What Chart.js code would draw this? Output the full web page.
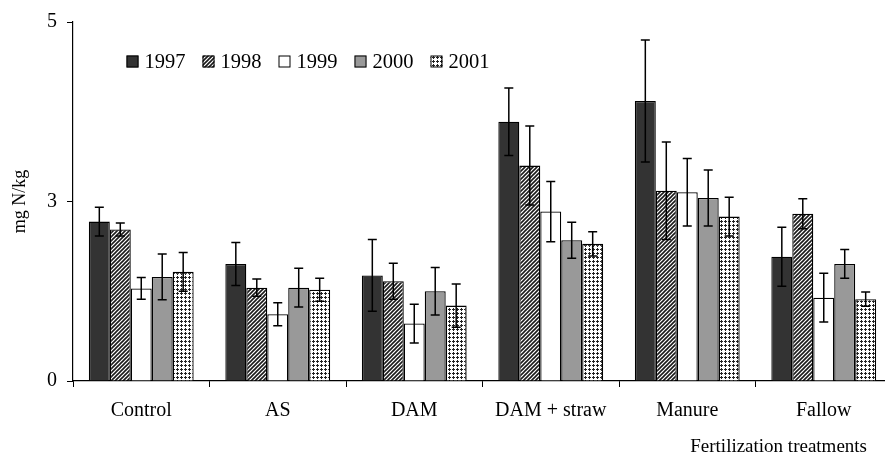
<!DOCTYPE html>
<html>
<head>
<meta charset="utf-8">
<script src="https://cdn.jsdelivr.net/npm/chart.js@4.4.1/dist/chart.umd.min.js"></script>
<style>
  html, body { margin: 0; padding: 0; background: #fff; overflow: hidden; }
  #wrap { width: 892px; height: 459px; }
</style>
</head>
<body>
<div id="wrap"><canvas id="c" width="892" height="459"></canvas></div>
<script>
// ---- Data ----
const categories = ['Control', 'AS', 'DAM', 'DAM + straw', 'Manure', 'Fallow'];
const seriesNames = ['1997', '1998', '1999', '2000', '2001'];
const v1997 = [2.22, 1.63, 1.47, 3.61, 3.90, 1.73];
const v1998 = [2.11, 1.30, 1.39, 3.00, 2.65, 2.33];
const v1999 = [1.29, 0.93, 0.80, 2.36, 2.63, 1.16];
const v2000 = [1.45, 1.30, 1.25, 1.96, 2.55, 1.63];
const v2001 = [1.52, 1.27, 1.05, 1.91, 2.29, 1.14];
const e1997 = [0.20, 0.30, 0.50, 0.47, 0.85, 0.41];
const e1998 = [0.09, 0.12, 0.25, 0.55, 0.68, 0.21];
const e1999 = [0.15, 0.16, 0.27, 0.42, 0.47, 0.34];
const e2000 = [0.32, 0.27, 0.33, 0.25, 0.39, 0.20];
const e2001 = [0.27, 0.16, 0.30, 0.17, 0.27, 0.10];
const yTickLabels = ['0', '3', '5'];
const yTitle = 'mg N/kg';
const xTitle = 'Fertilization treatments';

// ---- Patterns ----
function hatchPattern() {
  const s = 4, c = document.createElement('canvas');
  c.width = s; c.height = s;
  const g = c.getContext('2d');
  g.fillStyle = '#fff'; g.fillRect(0, 0, s, s);
  g.strokeStyle = '#1a1a1a'; g.lineWidth = 1.6;
  g.beginPath();
  g.moveTo(0, s); g.lineTo(s, 0);
  g.moveTo(-1, 1); g.lineTo(1, -1);
  g.moveTo(s - 1, s + 1); g.lineTo(s + 1, s - 1);
  g.stroke();
  return g.createPattern(c, 'repeat');
}
function dotPattern() {
  const s = 4, c = document.createElement('canvas');
  c.width = s; c.height = s;
  const g = c.getContext('2d');
  g.fillStyle = '#fff'; g.fillRect(0, 0, s, s);
  g.fillStyle = '#222';
  g.fillRect(1, 0, 1, 3);
  g.fillRect(0, 1, 3, 1);
  return g.createPattern(c, 'repeat');
}

const ctx = document.getElementById('c').getContext('2d');
const fills = ['#333333', hatchPattern(), '#ffffff', '#999999', dotPattern()];
const values = [v1997, v1998, v1999, v2000, v2001];
const errors = [e1997, e1998, e1999, e2000, e2001];

const FONT = 'Liberation Serif, Times New Roman, serif';

const errorBarPlugin = {
  id: 'errorBars',
  afterDatasetsDraw(chart) {
    const g = chart.ctx, ys = chart.scales.y;
    g.save();
    g.strokeStyle = '#000';
    g.lineWidth = 1.5;
    chart.data.datasets.forEach((ds, di) => {
      const meta = chart.getDatasetMeta(di);
      meta.data.forEach((bar, i) => {
        const v = ds.data[i], e = ds.errors[i];
        const yt = ys.getPixelForValue(v + e), yb = ys.getPixelForValue(v - e);
        const x = bar.x, cw = 4.5;
        g.beginPath();
        g.moveTo(x, yt); g.lineTo(x, yb);
        g.moveTo(x - cw, yt); g.lineTo(x + cw, yt);
        g.moveTo(x - cw, yb); g.lineTo(x + cw, yb);
        g.stroke();
      });
    });
    g.restore();
  }
};

const legendPlugin = {
  id: 'customLegend',
  afterDraw(chart) {
    const g = chart.ctx, ca = chart.chartArea;
    g.save();
    g.font = '20.5px ' + FONT;
    g.textBaseline = 'middle';
    g.textAlign = 'left';
    let x = ca.left + 53.5;
    const yc = ca.top + 39.5, bs = 12;
    chart.data.datasets.forEach((ds) => {
      g.fillStyle = ds.backgroundColor;
      g.fillRect(x, yc - bs / 2, bs, bs);
      g.strokeStyle = '#000'; g.lineWidth = 1;
      g.strokeRect(x + 0.5, yc - bs / 2 + 0.5, bs - 1, bs - 1);
      g.fillStyle = '#000';
      g.fillText(ds.label, x + bs + 6, yc + 1);
      x += bs + 6 + g.measureText(ds.label).width + 17;
    });
    g.restore();
  }
};

const xTitlePlugin = {
  id: 'xTitle',
  afterDraw(chart) {
    const g = chart.ctx, ca = chart.chartArea;
    g.save();
    g.font = '19px ' + FONT;
    g.fillStyle = '#000';
    g.textAlign = 'right';
    g.textBaseline = 'alphabetic';
    g.fillText(xTitle, ca.right - 25, ca.bottom + 71);
    g.restore();
  }
};

new Chart(ctx, {
  type: 'bar',
  data: {
    labels: categories,
    datasets: seriesNames.map((name, k) => ({
      label: name,
      data: values[k],
      errors: errors[k],
      backgroundColor: fills[k],
      borderColor: '#000',
      borderWidth: 1.3,
      borderSkipped: 'bottom',
      categoryPercentage: 0.768,
      barPercentage: 1.0
    }))
  },
  options: {
    responsive: false,
    animation: false,
    layout: { padding: { top: 17, right: 0, left: 0, bottom: 0 } },
    plugins: { legend: { display: false }, tooltip: { enabled: false } },
    scales: {
      x: {
        offset: true,
        grid: { display: true, offset: true, drawOnChartArea: false, drawTicks: true, tickLength: 6, color: '#000', lineWidth: 1 },
        border: { display: true, color: '#000', width: 1.2 },
        ticks: { color: '#000', font: { family: FONT, size: 20 }, padding: 12, maxRotation: 0, autoSkip: false },
        afterFit(s) { s.height = 78; }
      },
      y: {
        min: 0, max: 5,
        grid: { display: true, drawOnChartArea: false, drawTicks: true, tickLength: 6, color: '#000', lineWidth: 1 },
        border: { display: true, color: '#000', width: 1.2 },
        ticks: {
          stepSize: 2.5,
          color: '#000',
          font: { family: FONT, size: 20 },
          padding: 10,
          callback: (val, idx) => yTickLabels[idx]
        },
        title: { display: true, text: yTitle, color: '#000', font: { family: FONT, size: 18 }, padding: { top: 9, bottom: 0 } },
        afterFit(s) { s.width = 73; }
      }
    }
  },
  plugins: [errorBarPlugin, legendPlugin, xTitlePlugin]
});
</script>
</body>
</html>
